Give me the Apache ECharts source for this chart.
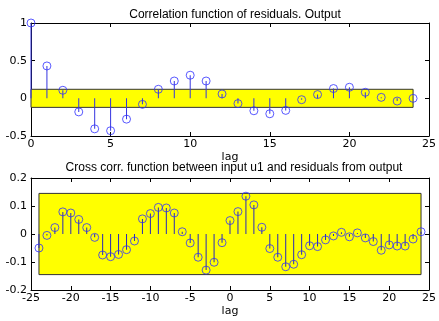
<!DOCTYPE html>
<html>
<head>
<meta charset="utf-8">
<script src="https://cdn.jsdelivr.net/npm/echarts@6/dist/echarts.min.js"></script>
<style>
html, body { margin: 0; padding: 0; background: #fff; }
#container { width: 439px; height: 321px; }
</style>
</head>
<body>
<div id="container"></div>
<script>
var dom = document.getElementById("container");
var myChart = echarts.init(dom);

// auto correlation of residuals, lags 0..24
var autoLags = [];
for (var i = 0; i <= 24; i++) autoLags.push(i);
var autoValues = [1.0, 0.43, 0.107, -0.18, -0.405, -0.43, -0.276, -0.08, 0.12, 0.23, 0.307, 0.23,
    0.058, -0.07, -0.165, -0.205, -0.16, -0.018, 0.05, 0.13, 0.147, 0.08, 0.013, -0.036, 0.0];
var autoConf = 0.12;

// cross correlation input u1 / residuals, lags -24..24
var crossLags = [];
for (var i = -24; i <= 24; i++) crossLags.push(i);
var crossValues = [-0.05, -0.005, 0.023, 0.079, 0.075, 0.052, 0.023, -0.012, -0.075, -0.081,
    -0.073, -0.056, -0.025, 0.054, 0.073, 0.095, 0.093, 0.075, 0.008, -0.032, -0.083, -0.129,
    -0.101, -0.031, 0.048, 0.08, 0.135, 0.104, 0.024, -0.052, -0.083, -0.117, -0.108, -0.074,
    -0.042, -0.045, -0.021, -0.007, 0.006, -0.01, 0.004, -0.014, -0.027, -0.058, -0.039,
    -0.043, -0.043, -0.018, 0.008];
var crossConf = 0.145;

function pairs(xs, ys) {
    var out = [];
    for (var i = 0; i < xs.length; i++) out.push([xs[i], ys[i]]);
    return out;
}

var titleFont = 'Arial, "Liberation Sans", sans-serif';
var tickFont = '"DejaVu Sans", sans-serif';
var labelStyle = { color: '#000', fontSize: 11, fontFamily: tickFont };

function xAx(idx, min, max, pos, show) {
    return {
        type: 'value', gridIndex: idx, min: min, max: max, interval: 5, position: pos,
        name: show ? 'lag' : '', nameLocation: 'middle', nameGap: 16,
        nameTextStyle: labelStyle,
        axisLine: { show: true, onZero: false, lineStyle: { color: '#000', width: 1 } },
        axisTick: { show: true, inside: true, length: 4, lineStyle: { color: '#000' } },
        axisLabel: { show: show, margin: 3, color: '#000', fontSize: 11, fontFamily: tickFont },
        splitLine: { show: false }
    };
}
function yAx(idx, min, max, step, pos, show) {
    return {
        type: 'value', gridIndex: idx, min: min, max: max, interval: step, position: pos,
        axisLine: { show: true, onZero: false, lineStyle: { color: '#000', width: 1 } },
        axisTick: { show: true, inside: true, length: 4, lineStyle: { color: '#000' } },
        axisLabel: { show: show, margin: 4, color: '#000', fontSize: 11, fontFamily: tickFont },
        splitLine: { show: false }
    };
}

var bandStyle = { color: '#ffff00', borderColor: '#333', borderWidth: 1 };

option = {
    animation: false,
    backgroundColor: '#fff',
    title: [
        { text: 'Correlation function of residuals. Output', left: 230, top: 4, textAlign: 'center',
          textStyle: { fontSize: 12, fontWeight: 'normal', color: '#000', fontFamily: titleFont } },
        { text: 'Cross corr. function between input u1 and residuals from output', left: 229, top: 157, textAlign: 'center',
          textStyle: { fontSize: 12, fontWeight: 'normal', color: '#000', fontFamily: titleFont } }
    ],
    grid: [
        { left: 31, top: 23, width: 400, height: 113 },
        { left: 31, top: 178, width: 400, height: 112 }
    ],
    xAxis: [
        xAx(0, 0, 25, 'bottom', true),
        xAx(0, 0, 25, 'top', false),
        xAx(1, -25, 25, 'bottom', true),
        xAx(1, -25, 25, 'top', false)
    ],
    yAxis: [
        yAx(0, -0.5, 1, 0.5, 'left', true),
        yAx(0, -0.5, 1, 0.5, 'right', false),
        yAx(1, -0.2, 0.2, 0.1, 'left', true),
        yAx(1, -0.2, 0.2, 0.1, 'right', false)
    ],
    series: [
        {
            type: 'bar', xAxisIndex: 0, yAxisIndex: 0, barWidth: 1,
            itemStyle: { color: '#3535e0' },
            data: pairs(autoLags, autoValues),
            markArea: {
                silent: true, itemStyle: bandStyle,
                data: [[{ coord: [0, -autoConf] }, { coord: [24, autoConf] }]]
            },
            z: 2
        },
        {
            type: 'scatter', xAxisIndex: 0, yAxisIndex: 0, symbol: 'circle', symbolSize: 8,
            itemStyle: { color: 'transparent', borderColor: '#3030ff', borderWidth: 1 },
            data: pairs(autoLags, autoValues), z: 3
        },
        {
            type: 'bar', xAxisIndex: 2, yAxisIndex: 2, barWidth: 1,
            itemStyle: { color: '#2a2ab8' },
            data: pairs(crossLags, crossValues),
            markArea: {
                silent: true, itemStyle: bandStyle,
                data: [[{ coord: [-24, -crossConf] }, { coord: [24, crossConf] }]]
            },
            z: 2
        },
        {
            type: 'scatter', xAxisIndex: 2, yAxisIndex: 2, symbol: 'circle', symbolSize: 8,
            itemStyle: { color: 'transparent', borderColor: '#3030ff', borderWidth: 1 },
            data: pairs(crossLags, crossValues), z: 3
        }
    ]
};
if (option && typeof option === "object") {
    myChart.setOption(option, true);
}
</script>
</body>
</html>
